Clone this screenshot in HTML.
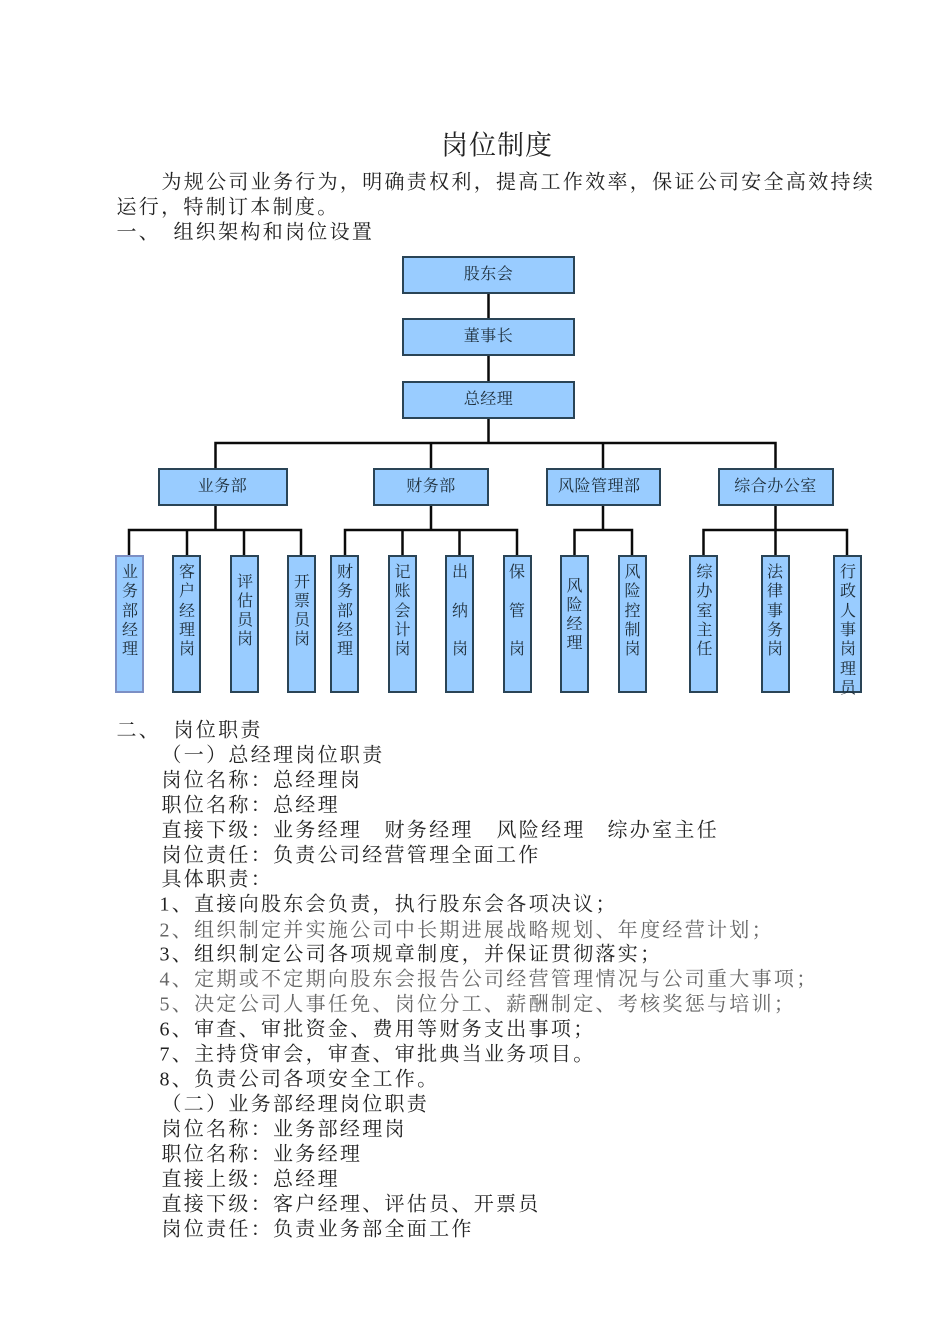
<!DOCTYPE html>
<html lang="zh"><head><meta charset="utf-8"><style>
html,body{margin:0;padding:0;background:#fff}
#p{position:relative;width:950px;height:1344px;overflow:hidden;font-family:"Liberation Serif","Noto Serif CJK SC",serif;color:#222}
.l{position:absolute;white-space:pre;font-size:20px;line-height:25px;letter-spacing:2.3px;height:25px;transform:translate(-.5px,1.5px)}
.g{color:#666}
.b{position:absolute;background:#99ccff;border:2px solid #2a4456;box-sizing:border-box;top:0}
.h{text-align:center;font-size:16px;letter-spacing:.5px;color:#1c2c38;line-height:33px}
.v{position:absolute;top:555px;height:137.5px;width:29px;background:#99ccff;border:2px solid #2a4456;box-sizing:border-box}
.t{position:absolute;top:563.2px;width:29px;text-align:center;font-size:16px;line-height:19.3px;color:#1c2c38;white-space:pre}
svg{position:absolute;left:0;top:0}
</style></head><body><div id="p">
<div class="l" style="left:441.5px;top:128px;font-size:27px;line-height:32px;letter-spacing:1px;height:32px">岗位制度</div>
<div class="l" style="left:162px;top:169px">为规公司业务行为，明确责权利，提高工作效率，保证公司安全高效持续</div>
<div class="l" style="left:117px;top:194px">运行，特制订本制度。</div>
<div class="l" style="left:117px;top:219px">一、</div><div class="l" style="left:174px;top:219px">组织架构和岗位设置</div>
<svg width="950" height="1344" fill="none" stroke="#0a0a0a" stroke-width="2.5">
<path d="M488.5 293V381M488.5 418V443M215.5 468V443H775.5V468M431 443V468M603 443V468"/>
<path d="M215.5 505V530M129 555V530H301V555M187 530V555M244 530V555"/>
<path d="M431 505V530M345 555V530H517V555M402.5 530V555M459.5 530V555"/>
<path d="M603 505V530M574.5 555V530H632V555"/>
<path d="M775.5 505V555M703.5 555V530H847V555"/>
</svg>
<div class="b h" style="left:402px;top:255.5px;width:173px;height:38px">股东会</div>
<div class="b h" style="left:402px;top:318px;width:173px;height:38px">董事长</div>
<div class="b h" style="left:402px;top:380.5px;width:173px;height:38px">总经理</div>
<div class="b h" style="left:157.5px;top:467.5px;width:130px;height:38px">业务部</div>
<div class="b h" style="left:373px;top:467.5px;width:116px;height:38px">财务部</div>
<div class="b h" style="left:545.5px;top:467.5px;width:115.5px;height:38px;padding-right:8px">风险管理部</div>
<div class="b h" style="left:717.5px;top:467.5px;width:116px;height:38px">综合办公室</div>
<div class="v" style="left:114.5px;border-color:#7c8fc4"></div><div class="t" style="left:115.5px">业
务
部
经
理</div>
<div class="v" style="left:172px"></div><div class="t" style="left:172.5px">客
户
经
理
岗</div>
<div class="v" style="left:229.5px"></div><div class="t" style="left:230.5px;top:572.5px">评
估
员
岗</div>
<div class="v" style="left:287px"></div><div class="t" style="left:287.5px;top:572.5px">开
票
员
岗</div>
<div class="v" style="left:330px"></div><div class="t" style="left:330.5px">财
务
部
经
理</div>
<div class="v" style="left:387.5px"></div><div class="t" style="left:388px">记
账
会
计
岗</div>
<div class="v" style="left:445px"></div><div class="t" style="left:445.5px">出

纳

岗</div>
<div class="v" style="left:502.5px"></div><div class="t" style="left:502.5px">保

管

岗</div>
<div class="v" style="left:560px"></div><div class="t" style="left:560px;top:576.5px">风
险
经
理</div>
<div class="v" style="left:617.5px"></div><div class="t" style="left:618px">风
险
控
制
岗</div>
<div class="v" style="left:689px"></div><div class="t" style="left:690px">综
办
室
主
任</div>
<div class="v" style="left:761px"></div><div class="t" style="left:760.5px">法
律
事
务
岗</div>
<div class="v" style="left:833px"></div><div class="t" style="left:833.5px">行
政
人
事
岗
理
员</div>
<div class="l" style="left:117px;top:717px">二、</div><div class="l" style="left:174px;top:717px">岗位职责</div>
<div class="l" style="left:162px;top:742px">（一）总经理岗位职责</div>
<div class="l" style="left:162px;top:767px">岗位名称：总经理岗</div>
<div class="l" style="left:162px;top:792px">职位名称：总经理</div>
<div class="l" style="left:162px;top:817px">直接下级：业务经理</div>
<div class="l" style="left:385px;top:817px">财务经理</div>
<div class="l" style="left:497px;top:817px">风险经理</div>
<div class="l" style="left:608px;top:817px">综办室主任</div>
<div class="l" style="left:162px;top:842px">岗位责任：负责公司经营管理全面工作</div>
<div class="l" style="left:162px;top:866px">具体职责：</div>
<div class="l" style="left:160px;top:891px">1、直接向股东会负责，执行股东会各项决议；</div>
<div class="l g" style="left:160px;top:917px">2、组织制定并实施公司中长期进展战略规划、年度经营计划；</div>
<div class="l" style="left:160px;top:941px">3、组织制定公司各项规章制度，并保证贯彻落实；</div>
<div class="l g" style="left:160px;top:966px">4、定期或不定期向股东会报告公司经营管理情况与公司重大事项；</div>
<div class="l g" style="left:160px;top:991px">5、决定公司人事任免、岗位分工、薪酬制定、考核奖惩与培训；</div>
<div class="l" style="left:160px;top:1016px">6、审查、审批资金、费用等财务支出事项；</div>
<div class="l" style="left:160px;top:1041px">7、主持贷审会，审查、审批典当业务项目。</div>
<div class="l" style="left:160px;top:1066px">8、负责公司各项安全工作。</div>
<div class="l" style="left:162px;top:1091px">（二）业务部经理岗位职责</div>
<div class="l" style="left:162px;top:1116px">岗位名称：业务部经理岗</div>
<div class="l" style="left:162px;top:1141px">职位名称：业务经理</div>
<div class="l" style="left:162px;top:1166px">直接上级：总经理</div>
<div class="l" style="left:162px;top:1191px">直接下级：客户经理、评估员、开票员</div>
<div class="l" style="left:162px;top:1216px">岗位责任：负责业务部全面工作</div>
</div></body></html>
